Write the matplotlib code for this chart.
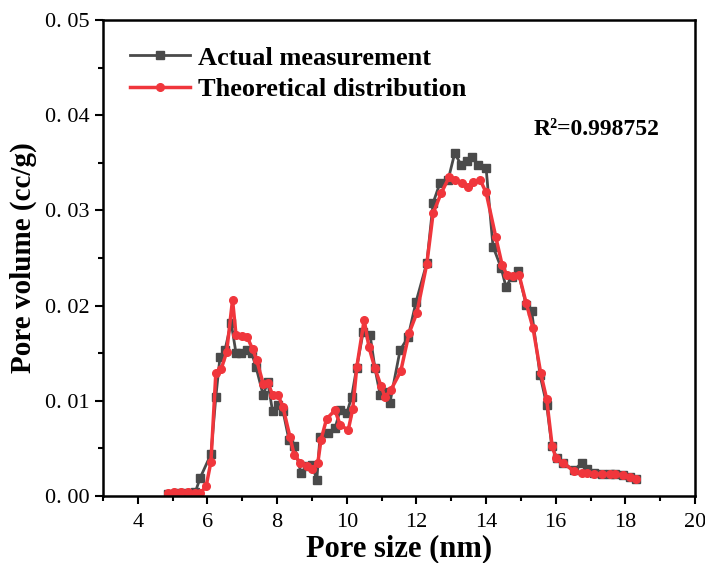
import numpy as np
import matplotlib.pyplot as plt
from matplotlib.ticker import MultipleLocator, FixedLocator

# measured pore size distribution (grey squares)
size_meas = [4.87, 5.1, 5.3, 5.5, 5.65, 5.79, 6.1, 6.24, 6.36, 6.5, 6.68, 6.82, 6.95,
             7.13, 7.27, 7.39, 7.6, 7.73, 7.87, 8.02, 8.17, 8.34, 8.49, 8.69, 8.85,
             9.0, 9.14, 9.23, 9.46, 9.66, 9.81, 10.0, 10.14, 10.28, 10.47, 10.67,
             10.81, 10.96, 11.13, 11.24, 11.53, 11.76, 11.99, 12.3, 12.48, 12.68,
             12.91, 13.1, 13.28, 13.44, 13.59, 13.77, 14.0, 14.2, 14.43, 14.57,
             14.75, 14.92, 15.15, 15.31, 15.55, 15.74, 15.89, 16.03, 16.21, 16.53,
             16.75, 16.9, 17.1, 17.32, 17.56, 17.7, 17.93, 18.14, 18.31]
vol_meas = [0.0002, 0.0003, 0.0003, 0.0003, 0.0004, 0.0019, 0.0044, 0.0104, 0.0146,
            0.0153, 0.0182, 0.0150, 0.0150, 0.0153, 0.0150, 0.0136, 0.0106, 0.0120,
            0.0089, 0.0096, 0.0089, 0.0059, 0.0052, 0.0024, 0.0031, 0.0033, 0.0017,
            0.0062, 0.0066, 0.0071, 0.0090, 0.0087, 0.0104, 0.0134, 0.0172, 0.0169,
            0.0134, 0.0106, 0.0109, 0.0098, 0.0153, 0.0167, 0.0204, 0.0245, 0.0308,
            0.0329, 0.0332, 0.0360, 0.0348, 0.0352, 0.0356, 0.0348, 0.0345, 0.0262,
            0.0240, 0.0220, 0.0230, 0.0236, 0.0201, 0.0194, 0.0127, 0.0096, 0.0052,
            0.0040, 0.0035, 0.0027, 0.0035, 0.0028, 0.0024, 0.0023, 0.0023, 0.0023,
            0.0022, 0.0020, 0.0018]

# fitted (theoretical) distribution (red circles)
size_fit = [4.87, 5.05, 5.25, 5.45, 5.65, 5.79, 5.96, 6.1, 6.24, 6.39, 6.55, 6.72,
            6.82, 6.98, 7.14, 7.3, 7.41, 7.6, 7.74, 7.87, 8.03, 8.17, 8.37, 8.49,
            8.67, 8.85, 9.0, 9.17, 9.26, 9.42, 9.66, 9.81, 10.04, 10.17, 10.29, 10.5,
            10.64, 10.81, 10.98, 11.1, 11.26, 11.55, 11.79, 12.01, 12.3, 12.48,
            12.71, 12.94, 13.1, 13.3, 13.47, 13.63, 13.83, 14.0, 14.28, 14.46, 14.6,
            14.78, 14.95, 15.15, 15.35, 15.57, 15.74, 15.9, 16.01, 16.2, 16.53,
            16.75, 16.9, 17.1, 17.32, 17.56, 17.7, 17.93, 18.14, 18.31]
vol_fit = [0.0003, 0.0004, 0.0004, 0.0004, 0.0003, 0.0003, 0.0010, 0.0036, 0.0129,
           0.0133, 0.0151, 0.0206, 0.0169, 0.0168, 0.0167, 0.0154, 0.0143, 0.0118,
           0.0119, 0.0106, 0.0106, 0.0093, 0.0062, 0.0043, 0.0035, 0.0031, 0.0028,
           0.0035, 0.0059, 0.0081, 0.0090, 0.0075, 0.0069, 0.0091, 0.0136, 0.0185,
           0.0156, 0.0134, 0.0116, 0.0104, 0.0111, 0.0131, 0.0171, 0.0192, 0.0244,
           0.0297, 0.0318, 0.0335, 0.0332, 0.0329, 0.0325, 0.0330, 0.0332, 0.0319,
           0.0272, 0.0243, 0.0232, 0.0231, 0.0232, 0.0203, 0.0176, 0.0129, 0.0102,
           0.0052, 0.0040, 0.0035, 0.0026, 0.0024, 0.0024, 0.0023, 0.0023, 0.0023,
           0.0023, 0.0022, 0.0020, 0.0018]

y_ticks = [0.0, 0.01, 0.02, 0.03, 0.04, 0.05]
y_labels = ["0. 00", "0. 01", "0. 02", "0. 03", "0. 04", "0. 05"]
x_ticks = [4, 6, 8, 10, 12, 14, 16, 18, 20]

plt.rcParams['font.family'] = ['Liberation Serif', 'DejaVu Serif']

fig = plt.figure(figsize=(7.05, 5.63), dpi=100)
ax = fig.add_axes([0.1461, 0.119, 0.8397, 0.8455])

ax.plot(size_meas, vol_meas, color='#4a4a4a', linewidth=2, marker='s',
        markersize=5.5, label='Actual measurement')
ax.plot(size_fit, vol_fit, color='#f0363c', linewidth=2.5, marker='o',
        markersize=5.5, label='Theoretical distribution')

ax.set_xlim(3, 20)
ax.set_ylim(0, 0.05)
ax.xaxis.set_major_locator(FixedLocator(x_ticks))
ax.xaxis.set_minor_locator(MultipleLocator(1))
ax.set_yticks(y_ticks)
ax.set_yticklabels(y_labels)
ax.yaxis.set_minor_locator(MultipleLocator(0.005))

ax.tick_params(which='both', direction='out', width=1.5, labelsize=16)
ax.tick_params(which='major', length=6)
ax.tick_params(which='minor', length=3.5)
ax.tick_params(axis='x', pad=6)
for s in ax.spines.values():
    s.set_linewidth(1.8)

ax.set_xlabel('Pore size (nm)', fontsize=22, fontweight='bold', labelpad=2)
ax.set_ylabel('Pore volume (cc/g)', fontsize=21, fontweight='bold', labelpad=6)

ax.legend(loc='upper left', bbox_to_anchor=(0.005, 0.995), frameon=False,
          prop={'weight': 'bold', 'size': 19}, handlelength=2.3,
          handletextpad=0.3, labelspacing=0.3)

ax.text(0.833, 0.769, 'R²=0.998752', transform=ax.transAxes, ha='center',
        va='center', fontsize=17, fontweight='bold')

fig.savefig('out.png', dpi=100)
